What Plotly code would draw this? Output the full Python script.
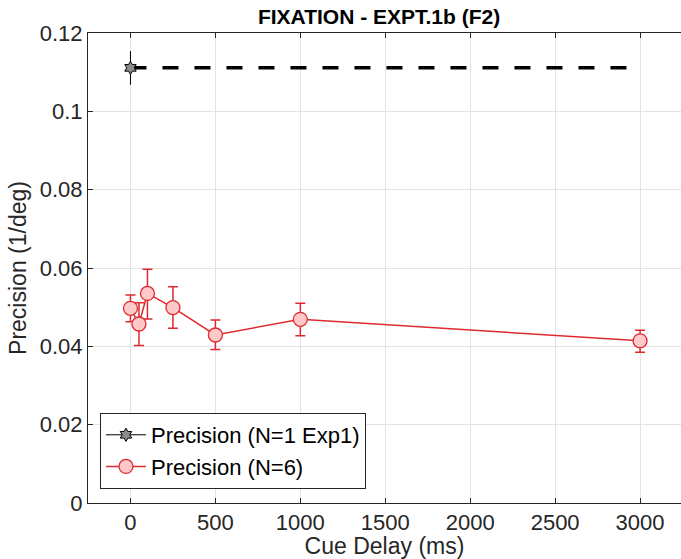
import plotly.graph_objects as go

# Data
exp1_delay = [0]
exp1_prec = [0.1111]
exp1_err = [0.0043]
ref_line_x = [0, 3000]
ref_line_y = [0.1111, 0.1111]

delays = [0, 50, 100, 250, 500, 1000, 3000]
prec = [0.0497, 0.0457, 0.0535, 0.0499, 0.0429, 0.0469, 0.0414]
err_plus = [0.0034, 0.0054, 0.0062, 0.0053, 0.0038, 0.0041, 0.0027]
err_minus = [0.0034, 0.0055, 0.0065, 0.0053, 0.0037, 0.0042, 0.0029]

title = "<b>FIXATION - EXPT.1b (F2)</b>"
xlabel = "Cue Delay (ms)"
ylabel = "Precision (1/deg)"
xticks = [0, 500, 1000, 1500, 2000, 2500, 3000]
yticks = [0, 0.02, 0.04, 0.06, 0.08, 0.1, 0.12]
ytick_text = ["0", "0.02", "0.04", "0.06", "0.08", "0.1", "0.12"]

FONT = "Liberation Sans, Arial, Helvetica, sans-serif"
AX = "#262626"
RED = "#DE2A2F"

fig = go.Figure()

fig.add_trace(go.Scatter(
    x=ref_line_x, y=ref_line_y, mode="lines",
    line=dict(color="black", width=3.5, dash="16px,16px"),
    showlegend=False, hoverinfo="skip"))

fig.add_trace(go.Scatter(
    x=exp1_delay, y=exp1_prec, mode="lines+markers",
    name="Precision (N=1 Exp1)",
    line=dict(color="black", width=1),
    marker=dict(symbol="hexagram", size=10, color="#8c8c8c",
                line=dict(color="black", width=1)),
    error_y=dict(type="data", array=exp1_err, color="black", thickness=1, width=0)))

fig.add_trace(go.Scatter(
    x=delays, y=prec, mode="lines+markers",
    name="Precision (N=6)",
    line=dict(color=RED, width=1.5),
    marker=dict(symbol="circle", size=14, color="#FFC9C9",
                line=dict(color=RED, width=1.3)),
    error_y=dict(type="data", array=err_plus, arrayminus=err_minus,
                 color=RED, thickness=1.5, width=5)))

fig.update_layout(
    width=681, height=559,
    margin=dict(l=88, r=0, t=33, b=56),
    paper_bgcolor="white", plot_bgcolor="white",
    font=dict(family=FONT, size=22, color=AX),
    title=dict(text=title, x=0.5566, xanchor="center", y=0.984, yanchor="top",
               font=dict(family=FONT, size=21, color="black")),
    legend=dict(x=0.0202, y=0.0298, xanchor="left", yanchor="bottom",
                bgcolor="white", bordercolor=AX, borderwidth=1,
                font=dict(family=FONT, size=22, color="black"),
                tracegroupgap=0, itemwidth=40),
    showlegend=True,
)

fig.update_xaxes(
    range=[-250, 3241], tickvals=xticks,
    showgrid=True, gridcolor="#E3E3E3", gridwidth=1,
    showline=True, linecolor=AX, linewidth=1, mirror="ticks",
    ticks="inside", ticklen=5, tickcolor=AX,
    zeroline=False,
    title=dict(text=xlabel, standoff=2, font=dict(family=FONT, size=23, color=AX)),
    tickfont=dict(family=FONT, size=22, color=AX))

fig.update_yaxes(
    range=[0, 0.12], tickvals=yticks, ticktext=ytick_text,
    showgrid=True, gridcolor="#E3E3E3", gridwidth=1,
    showline=True, linecolor=AX, linewidth=1, mirror=False,
    ticks="inside", ticklen=5, tickcolor=AX,
    zeroline=False,
    title=dict(text=ylabel, standoff=6, font=dict(family=FONT, size=23, color=AX)),
    tickfont=dict(family=FONT, size=22, color=AX))

fig.write_html("out.html")
